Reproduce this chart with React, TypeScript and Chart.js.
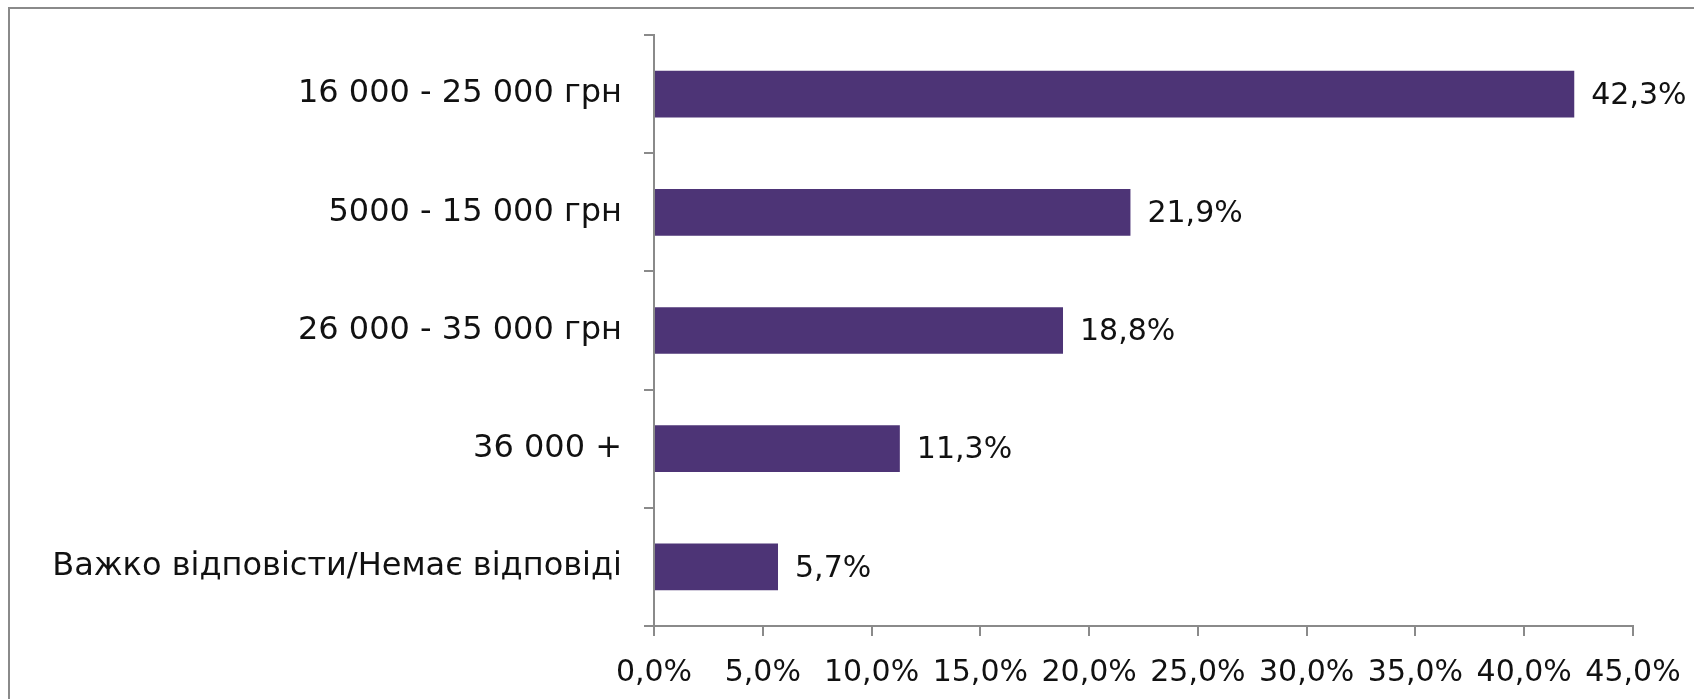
import React, { useEffect, useRef } from "react";
import { Chart, registerables } from "chart.js";

Chart.register(...registerables);

const categories = [
  "16 000 - 25 000 грн",
  "5000 - 15 000 грн",
  "26 000 - 35 000 грн",
  "36 000 +",
  "Важко відповісти/Немає відповіді",
];
const shares = [42.3, 21.9, 18.8, 11.3, 5.7];
const axisMin = 0;
const axisMax = 45;
const axisStep = 5;

const W = 1694;
const H = 699;
const FONT = "'DejaVu Sans', sans-serif";
const GRAY = "#8a8a8a";
const BAR = "#4d3476";
const TEXT = "#111111";

const fmt = (v: number) => v.toFixed(1).replace(".", ",") + "%";

const frame = {
  id: "frame",
  beforeDraw(chart: any) {
    const ctx = chart.ctx;
    ctx.save();
    ctx.strokeStyle = GRAY;
    ctx.lineWidth = 2;
    ctx.beginPath();
    ctx.moveTo(9, H);
    ctx.lineTo(9, 8);
    ctx.lineTo(W, 8);
    ctx.stroke();
    ctx.restore();
  },
};

const valueLabels = {
  id: "valueLabels",
  afterDatasetsDraw(chart: any) {
    const ctx = chart.ctx;
    const meta = chart.getDatasetMeta(0);
    const data = chart.data.datasets[0].data as number[];
    ctx.save();
    ctx.font = `30px ${FONT}`;
    ctx.fillStyle = TEXT;
    ctx.textAlign = "left";
    ctx.textBaseline = "middle";
    meta.data.forEach((el: any, i: number) => {
      ctx.fillText(fmt(data[i]), el.x + 17, el.y + 2);
    });
    ctx.restore();
  },
};

export default function App() {
  const ref = useRef<HTMLCanvasElement | null>(null);

  useEffect(() => {
    if (!ref.current) return;
    const chart = new Chart(ref.current, {
      type: "bar",
      data: {
        labels: categories,
        datasets: [
          {
            data: shares,
            backgroundColor: BAR,
            borderWidth: 0,
            barPercentage: 0.395,
            categoryPercentage: 1,
          },
        ],
      },
      options: {
        indexAxis: "y",
        animation: false,
        responsive: false,
        devicePixelRatio: 1,
        layout: { padding: { left: 0, top: 35, right: 61, bottom: 0 } },
        plugins: {
          legend: { display: false },
          tooltip: { enabled: false },
        },
        scales: {
          x: {
            min: axisMin,
            max: axisMax,
            ticks: {
              stepSize: axisStep,
              callback: (v: any) => fmt(Number(v)),
              font: { family: FONT, size: 30 },
              color: TEXT,
              padding: 19,
              maxRotation: 0,
              autoSkip: false,
            },
            grid: {
              drawOnChartArea: false,
              drawTicks: true,
              tickLength: 10,
              color: GRAY,
              lineWidth: 2,
            },
            border: { color: GRAY, width: 2 },
            afterFit: (scale: any) => {
              scale.height = H - 626;
              scale.paddingLeft = 0;
              scale.paddingRight = 0;
            },
          },
          y: {
            ticks: {
              font: { family: FONT, size: 32 },
              color: TEXT,
              padding: 22,
              autoSkip: false,
            },
            grid: {
              drawOnChartArea: false,
              drawTicks: true,
              tickLength: 10,
              color: GRAY,
              lineWidth: 2,
            },
            border: { color: GRAY, width: 2 },
            afterFit: (scale: any) => {
              scale.width = 654;
              scale.paddingTop = 0;
              scale.paddingBottom = 0;
            },
          },
        },
      },
      plugins: [frame, valueLabels],
    });
    return () => chart.destroy();
  }, []);

  return (
    <div
      style={{
        position: "fixed",
        left: 0,
        top: 0,
        width: W,
        height: H,
        background: "#ffffff",
      }}
    >
      <canvas ref={ref} width={W} height={H} style={{ width: W, height: H, display: "block" }} />
    </div>
  );
}
